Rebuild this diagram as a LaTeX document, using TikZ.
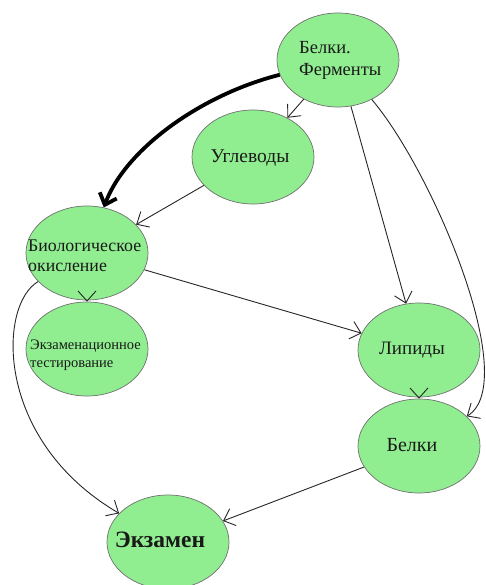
\documentclass[tikz,border=0pt]{standalone}
\usepackage{fontspec}
\setmainfont{Liberation Serif}
\usetikzlibrary{arrows.meta,shapes.geometric}
\definecolor{nodegreen}{HTML}{90EE90}
\definecolor{edgegray}{HTML}{707070}
\tikzset{
  blob/.style={ellipse, draw=edgegray, line width=0.7bp, fill=nodegreen,
    minimum width=122bp, minimum height=94bp, inner sep=0pt},
  lbl/.style={inner sep=0pt, text=black!90, align=left,
    font=\fontsize{18.5bp}{22bp}\selectfont},
  link/.style={draw=black!85, line width=0.9bp,
    -{Straight Barb[length=10bp,width=18bp]}},
  biglink/.style={draw=black, line width=3.8bp,
    -{Straight Barb[length=10bp,width=18bp]}},
}
\begin{document}
\begin{tikzpicture}[x=1bp,y=-1bp]
\useasboundingbox (0,0) rectangle (486,585);
\clip (0,0) rectangle (486,585);
% ellipses
\node[blob] (bf)  at (338,60)  {};
\node[blob] (ug)  at (253,157) {};
\node[blob] (bio) at (87,253)  {};
\node[blob] (ekt) at (87,349)  {};
\node[blob] (lip) at (419,350) {};
\node[blob] (bel) at (419,446) {};
\node[blob] (ekz) at (168,542) {};
% labels
\node[lbl, anchor=west] (tbf) at (299,60) {Белки.\\Ферменты};
\node[lbl, font=\fontsize{19.5bp}{22bp}\selectfont] (tug) at (250,158) {Углеводы};
\node[lbl, anchor=west, font=\fontsize{17.8bp}{20bp}\selectfont] (tbio) at (28,256) {Биологическое\\окисление};
\node[lbl, anchor=west, font=\fontsize{14.5bp}{18bp}\selectfont] (tekt) at (30,355) {Экзаменационное\\тестирование};
\node[lbl, font=\fontsize{19bp}{22bp}\selectfont] (tlip) at (412,350) {Липиды};
\node[lbl, font=\fontsize{20bp}{22bp}\selectfont] (tbel) at (412,445) {Белки};
\node[lbl, font=\fontsize{23.5bp}{26bp}\selectfont\bfseries] (tekz) at (160,540) {Экзамен};
% connectors
\draw[biglink] (bf) .. controls (200,95) and (125,150) .. (bio);
\draw[link] (bf) -- (ug);
\draw[link] (bf) -- (lip);
\draw[link] (bf) .. controls (432,170) and (522,382) .. (bel);
\draw[link] (ug) -- (bio);
\draw[link] (bio) -- (lip);
\draw[link] (bio) -- (ekt);
\draw[link] (bio) .. controls (-2,305) and (-6,440) .. (ekz);
\draw[link] (lip) -- (bel);
\draw[link] (bel) -- (ekz);
\end{tikzpicture}
\end{document}
